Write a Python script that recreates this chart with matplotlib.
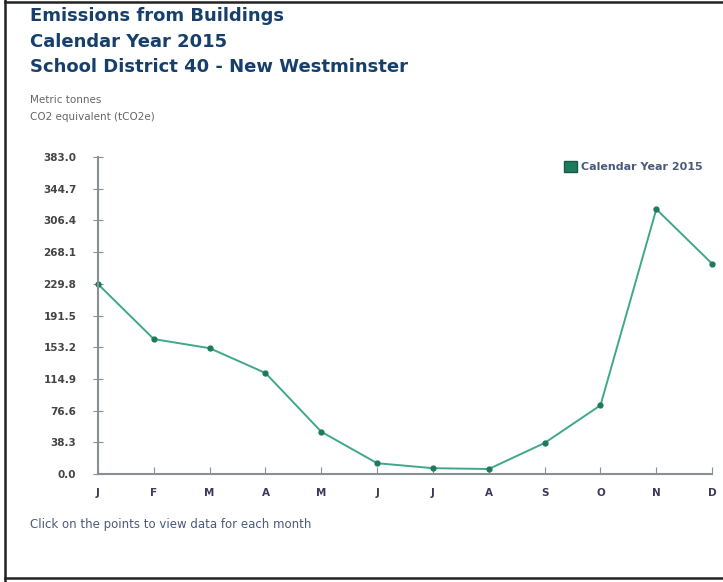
import matplotlib.pyplot as plt
import matplotlib.patches as mpatches
from matplotlib.lines import Line2D

months = ["J", "F", "M", "A", "M", "J", "J", "A", "S", "O", "N", "D"]
emissions = [229.5, 163.0, 152.0, 122.0, 51.0, 13.0, 7.0, 6.0, 37.5, 83.0, 320.0, 254.0]
yticks = [0.0, 38.3, 76.6, 114.9, 153.2, 191.5, 229.8, 268.1, 306.4, 344.7, 383.0]

title_color = "#173f6b"
label_color = "#555555"
line_color = "#3fa88a"

fig = plt.figure(figsize=(7.23, 5.82), dpi=100)
fig.patch.set_facecolor("white")

# outer frame (left, top, bottom only - right edge is cut off in the source)
for xs, ys in [([0.007, 0.007], [0.0, 1.0]), ([0.007, 1.0], [0.996, 0.996]), ([0.007, 1.0], [0.007, 0.007])]:
    fig.add_artist(Line2D(xs, ys, transform=fig.transFigure, color="#222222", linewidth=1.8))

ax = fig.add_axes([0.1355, 0.1856, 0.8495, 0.5446])
x = list(range(len(months)))
ax.plot(x, emissions, color=line_color, linewidth=1.4, marker="o", markersize=3.5,
        markerfacecolor="#1e7a5c", markeredgecolor="#1e7a5c", label="Calendar Year 2015",
        clip_on=False)

ax.set_xlim(0, 11)
ax.set_ylim(0, 383)
ax.set_xticks(x)
ax.set_xticklabels(months)
ax.set_yticks(yticks)
ax.set_yticklabels([f"{v:.1f}" for v in yticks])

for side in ["top", "right"]:
    ax.spines[side].set_visible(False)
for side in ["left", "bottom"]:
    ax.spines[side].set_color("#8a8f94")
    ax.spines[side].set_linewidth(1.5)

ax.tick_params(axis="y", direction="inout", length=7, color="#8a8f94", labelsize=7.5,
               labelcolor="#444444", pad=12)
ax.tick_params(axis="x", direction="in", length=5, color="#8a8f94", labelsize=7.5,
               labelcolor="#3a3a5a", pad=10)
for lbl in ax.get_xticklabels() + ax.get_yticklabels():
    lbl.set_fontweight("bold")

leg = ax.legend(handles=[mpatches.Patch(facecolor="#1e7a5c", edgecolor="#165a44",
                                        label="Calendar Year 2015")],
                loc="upper right", bbox_to_anchor=(1.0, 1.02), frameon=False,
                handlelength=1.2, handleheight=1.2, handletextpad=0.3, fontsize=8)
for t in leg.get_texts():
    t.set_color("#4a5a7a")
    t.set_fontweight("bold")

for yy, txt in [(0.972, "Emissions from Buildings"), (0.928, "Calendar Year 2015"),
                (0.885, "School District 40 - New Westminster")]:
    fig.text(0.0415, yy, txt, color=title_color, fontsize=13, fontweight="bold",
             va="center", ha="left")
fig.text(0.0415, 0.828, "Metric tonnes", color="#666666", fontsize=7.5, va="center", ha="left")
fig.text(0.0415, 0.799, "CO2 equivalent (tCO2e)", color="#666666", fontsize=7.5, va="center", ha="left")
fig.text(0.0415, 0.098, "Click on the points to view data for each month", color="#4a5a7a",
         fontsize=8.5, va="center", ha="left")

fig.savefig("out.png", dpi=100, facecolor="white")
